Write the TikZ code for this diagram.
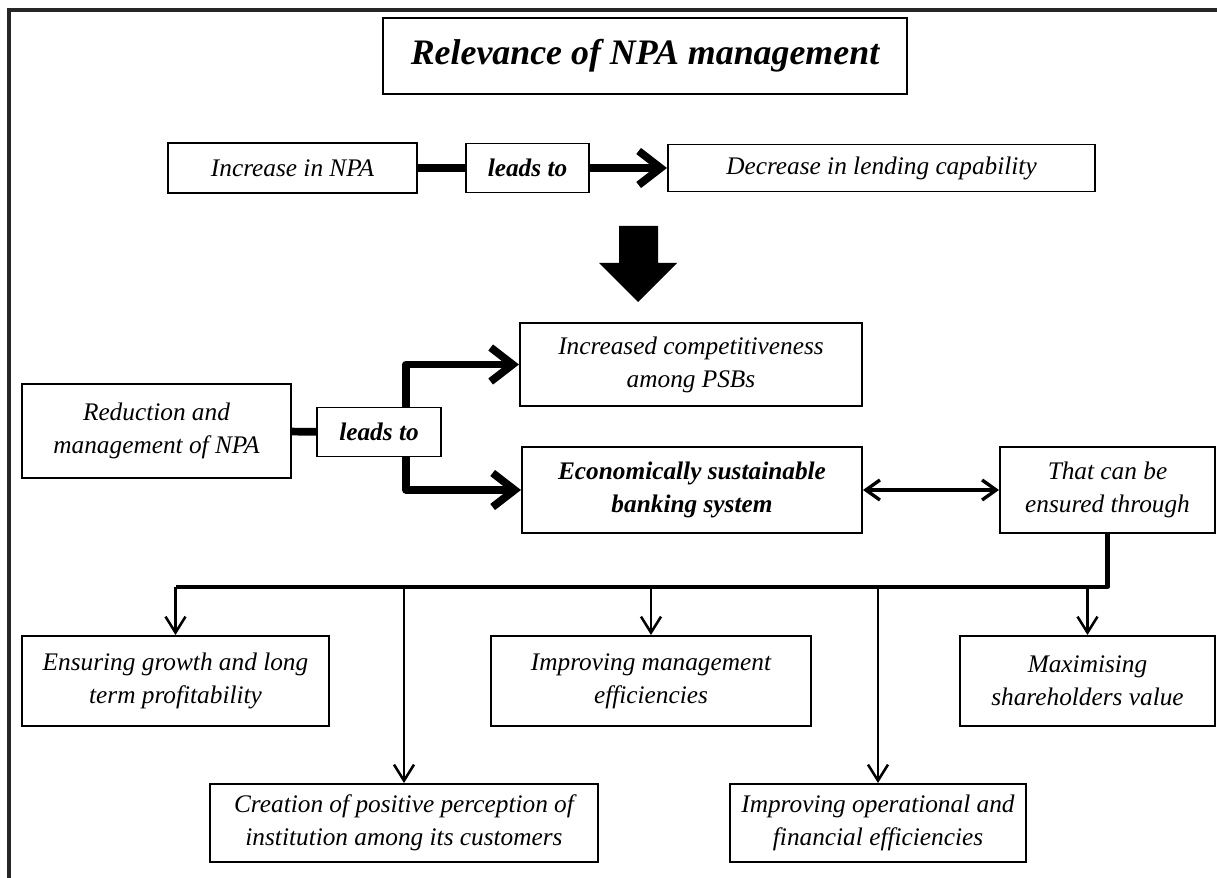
\documentclass[tikz,border=0pt]{standalone}
\usepackage{fontspec}
\setmainfont{Liberation Serif}
\usetikzlibrary{arrows.meta}
\newcommand{\txtFont}{\fontsize{18}{23.5}\selectfont}

\begin{document}
\begin{tikzpicture}[x=0.025cm,y=-0.025cm,%%
  boxStyle/.style={draw,line width=1.4pt,align=center,inner sep=2pt,
    font=\txtFont\itshape},%%
  boldStyle/.style={boxStyle,font=\txtFont\bfseries\itshape},%%
  thickLine/.style={-,line width=5.5pt,line join=round},%%
  thickArrow/.style={thickLine,-{Straight Barb[length=5.5mm,width=8.5mm]}},%%
  busLine/.style={-,line width=3pt,line join=round},%%
  dropArrow/.style={line width=1.8pt,-{Straight Barb[length=4mm,width=5mm]}},%%
  bothArrow/.style={line width=2.4pt,
    {Straight Barb[length=3.5mm,width=5mm]}-{Straight Barb[length=3.5mm,width=5mm]}}
]
%%
\useasboundingbox (0,0) rectangle (1217,878);
%% Outer frame (only top and left edges show).
\draw[line width=2.2pt,black!85] (9,878) -- (9,10) -- (1217,10);
%%
%% Title.
\node[boxStyle,minimum width=13.1cm,minimum height=1.9cm,
  font=\fontsize{25.5}{30}\selectfont\bfseries\itshape] (title) at (645,56)
  {Relevance of NPA management};
%%
%% First row.
\node[boxStyle,minimum width=6.225cm,minimum height=1.25cm] (incNPA) at (292.5,168)
  {Increase in NPA};
\node[boldStyle,minimum width=3.075cm,minimum height=1.225cm] (leadsOne) at (527.5,168)
  {leads to};
\node[boxStyle,minimum width=10.675cm,minimum height=1.175cm] (decLend) at (881.5,168)
  {Decrease in lending capability};
\draw[thickLine] (incNPA) -- (leadsOne);
\draw[thickArrow] (leadsOne) -- (decLend);
%%
%% Big arrow down.
\fill[black] (619,226) -- (658,226) -- (658,263) -- (677,263) -- (638,302)
  -- (599,263) -- (619,263) -- cycle;
%%
%% Second row.
\node[boxStyle,minimum width=8.55cm,minimum height=2.075cm] (incComp) at (691,364.5)
  {Increased competitiveness\\ among PSBs};
\node[boxStyle,minimum width=6.725cm,minimum height=2.35cm] (reduc) at (156.5,431)
  {Reduction and\\ management of NPA};
\node[boldStyle,minimum width=3.1cm,minimum height=1.225cm] (leadsTwo) at (379,432)
  {leads to};
\node[boldStyle,minimum width=8.5cm,minimum height=2.15cm] (econ) at (692,490)
  {Economically sustainable\\ banking system};
\node[boxStyle,minimum width=5.375cm,minimum height=2.15cm] (ensure) at (1107.5,490)
  {That can be\\ ensured through};
\draw[thickLine] (reduc) -- (leadsTwo);
\draw[thickArrow] ([xshift=-0.9cm]leadsTwo.north east) |- (incComp.west);
\draw[thickArrow] ([xshift=-0.9cm]leadsTwo.south east) |- (econ.west);
\draw[bothArrow] (econ) -- (ensure);
%%
%% Bottom boxes.
\node[boxStyle,minimum width=7.675cm,minimum height=2.25cm] (growth) at (175.5,681)
  {Ensuring growth and long\\ term profitability};
\node[boxStyle,minimum width=8cm,minimum height=2.25cm] (impMgmt) at (651,681)
  {Improving management\\ efficiencies};
\node[boxStyle,minimum width=6.375cm,minimum height=2.25cm] (maxValue) at (1087.5,681)
  {Maximising\\ shareholders value};
\node[boxStyle,minimum width=9.7cm,minimum height=1.95cm] (creation) at (404,823)
  {Creation of positive perception of\\ institution among its customers};
\node[boxStyle,minimum width=7.4cm,minimum height=1.95cm] (impOper) at (878,823)
  {Improving operational and\\ financial efficiencies};
%%
%% Bus from the ensured box to all bottom boxes.
\coordinate (busLeft) at (175.5,587);
\draw[busLine] (ensure.south) |- (busLeft);
\foreach \target in {growth,creation,impMgmt,impOper,maxValue}
  \draw[dropArrow] (\target.north |- busLeft) -- (\target.north);

\end{tikzpicture}
\end{document}
